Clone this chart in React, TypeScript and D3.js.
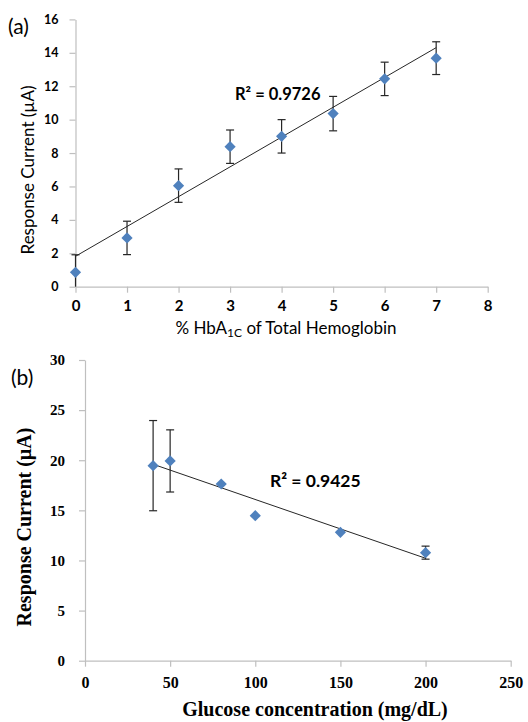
import * as d3 from 'd3';
import React, { useRef, useEffect } from 'react';

// ---- panel (a): HbA1c ----
const hbaLevels = [0, 1, 2, 3, 4, 5, 6, 7];
const hbaCurrent = [0.86, 2.92, 6.05, 8.38, 9.0, 10.36, 12.44, 13.68];
const hbaError = [1.05, 1.0, 1.0, 1.0, 1.0, 1.03, 1.0, 0.98];
const hbaTrendEnds = [1.82, 14.31];
const hbaTicksX = [0, 1, 2, 3, 4, 5, 6, 7, 8];
const hbaTicksY = [0, 2, 4, 6, 8, 10, 12, 14, 16];

// ---- panel (b): glucose ----
const glucoseLevels = [40, 50, 80, 100, 150, 200];
const glucoseCurrent = [19.46, 19.93, 17.63, 14.47, 12.81, 10.78];
const glucoseError = [4.5, 3.1, 0, 0, 0, 0.65];
const glucoseTrendEnds = [19.6, 10.22];
const glucoseTicksX = [0, 50, 100, 150, 200, 250];
const glucoseTicksY = [0, 5, 10, 15, 20, 25, 30];

const W = 528;
const H = 722;
const AXIS_GRAY = '#bfbfbf';
const MARKER = '#4f81bd';
const SANS = 'Lato, "Open Sans", sans-serif';
const SERIF = '"Liberation Serif", "DejaVu Serif", serif';

function Panel({ xs, ys, errs, trend, ticksX, ticksY, xRange, yRange, opts }) {
  const ref = useRef();

  useEffect(() => {
    const g = d3.select(ref.current);
    g.selectAll('*').remove();

    const x = d3.scaleLinear().domain([ticksX[0], ticksX[ticksX.length - 1]]).range(xRange);
    const y = d3.scaleLinear().domain([ticksY[0], ticksY[ticksY.length - 1]]).range(yRange);

    // axes (Excel style, light gray with outer ticks)
    const yAxis = g.append('g').attr('transform', `translate(${xRange[0]},0)`)
      .call(d3.axisLeft(y).tickValues(ticksY).tickSize(6).tickSizeOuter(0).tickPadding(opts.yPad));
    const xAxis = g.append('g').attr('transform', `translate(0,${yRange[0]})`)
      .call(d3.axisBottom(x).tickValues(ticksX).tickSize(6).tickSizeOuter(0).tickPadding(opts.xPad));

    [yAxis, xAxis].forEach(a => {
      a.select('.domain').attr('stroke', AXIS_GRAY).attr('stroke-width', 1.2);
      a.selectAll('.tick line').attr('stroke', AXIS_GRAY).attr('stroke-width', 1.2);
      a.selectAll('.tick text')
        .attr('fill', '#000')
        .attr('font-family', opts.tickFont)
        .attr('font-weight', 'bold');
    });
    yAxis.selectAll('.tick text').attr('font-size', opts.yTickSize);
    xAxis.selectAll('.tick text').attr('font-size', opts.xTickSize);

    // trendline
    const line = d3.line().x(d => x(d[0])).y(d => y(d[1]));
    g.append('path')
      .attr('d', line([[xs[0], trend[0]], [xs[xs.length - 1], trend[1]]]))
      .attr('fill', 'none')
      .attr('stroke', '#262626')
      .attr('stroke-width', 1);

    // error bars
    const pts = xs.map((v, i) => ({ x: v, y: ys[i], e: errs[i] }));
    const bars = g.append('g').attr('stroke', '#262626').attr('stroke-width', 1.2);
    pts.filter(d => d.e > 0).forEach(d => {
      const lo = Math.max(ticksY[0], d.y - d.e);
      const hi = d.y + d.e;
      const cx = x(d.x);
      bars.append('line').attr('x1', cx).attr('x2', cx).attr('y1', y(lo)).attr('y2', y(hi));
      bars.append('line').attr('x1', cx - 4).attr('x2', cx + 4).attr('y1', y(hi)).attr('y2', y(hi));
      if (d.y - d.e > ticksY[0]) {
        bars.append('line').attr('x1', cx - 4).attr('x2', cx + 4).attr('y1', y(lo)).attr('y2', y(lo));
      }
    });

    // diamond markers
    const diamond = d3.symbol().type(d3.symbolDiamond2).size(80);
    g.append('g').selectAll('path')
      .data(pts)
      .join('path')
      .attr('transform', d => `translate(${x(d.x)},${y(d.y)})`)
      .attr('d', diamond)
      .attr('fill', MARKER);
  });

  return <g ref={ ref }></g>;
}

export default function App() {
  return (
    <svg width={ W } height={ H } style={ { position: 'absolute', left: 0, top: 0, background: '#fff' } }>
      <rect width={ W } height={ H } fill="#fff" />

      {/* (a) */}
      <text x={ 8 } y={ 34 } fontFamily={ SANS } fontSize={ 21 }>(a)</text>
      <Panel
        xs={ hbaLevels } ys={ hbaCurrent } errs={ hbaError } trend={ hbaTrendEnds }
        ticksX={ hbaTicksX } ticksY={ hbaTicksY }
        xRange={ [75.5, 487.7] } yRange={ [286.7, 19.4] }
        opts={ { tickFont: SANS, yTickSize: 12.5, xTickSize: 15, yPad: 11, xPad: 8 } }
      />
      <text x={ 235 } y={ 100 } fontFamily={ SANS } fontSize={ 16.5 } fontWeight="bold">R² = 0.9726</text>
      <text transform="translate(34,170) rotate(-90)" textAnchor="middle" fontFamily={ SANS } fontSize={ 17 }>
        Response Current (µA)
      </text>
      <text x={ 286 } y={ 334 } textAnchor="middle" fontFamily={ SANS } fontSize={ 17 }>
        % HbA<tspan fontSize={ 12 } dy={ 3 }>1C</tspan><tspan dy={ -3 }> of Total Hemoglobin</tspan>
      </text>

      {/* (b) */}
      <text x={ 11 } y={ 385 } fontFamily={ SANS } fontSize={ 21 }>(b)</text>
      <Panel
        xs={ glucoseLevels } ys={ glucoseCurrent } errs={ glucoseError } trend={ glucoseTrendEnds }
        ticksX={ glucoseTicksX } ticksY={ glucoseTicksY }
        xRange={ [85, 510.7] } yRange={ [660.7, 360] }
        opts={ { tickFont: SERIF, yTickSize: 15, xTickSize: 16, yPad: 14, xPad: 10 } }
      />
      <text x={ 270 } y={ 487 } fontFamily={ SANS } fontSize={ 17.5 } fontWeight="bold">R² = 0.9425</text>
      <text transform="translate(31,527) rotate(-90)" textAnchor="middle" fontFamily={ SERIF } fontSize={ 20 } fontWeight="bold">
        Response Current (µA)
      </text>
      <text x={ 315 } y={ 716 } textAnchor="middle" fontFamily={ SERIF } fontSize={ 20 } fontWeight="bold">
        Glucose concentration (mg/dL)
      </text>
    </svg>
  );
}
